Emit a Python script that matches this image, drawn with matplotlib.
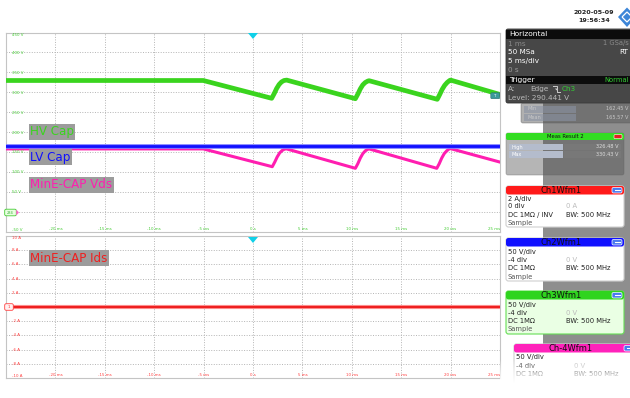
import matplotlib
matplotlib.use('Agg')
import matplotlib.pyplot as plt
import matplotlib.transforms as mtransforms
from matplotlib.patches import Rectangle, FancyBboxPatch, Polygon
import numpy as np

# ---------------- data ----------------
time_hv = [-25, -5.03, 1.89, 2.14, 2.39, 2.64, 2.89, 3.14, 3.41,
           10.36, 10.61, 10.86, 11.11, 11.36, 11.61, 11.75,
           18.65, 18.90, 19.15, 19.40, 19.65, 19.90, 20.00, 25]
hv_cap_v = [330, 330, 285.5, 297, 310, 320, 326.5, 330, 331,
            284.5, 296, 309, 319, 325, 328.5, 329.5,
            283, 295, 308, 318, 325, 330, 331, 295]

time_vds = [-25, -5.03, 1.95, 2.20, 2.45, 2.70, 2.95, 3.20, 3.40,
            10.36, 10.61, 10.86, 11.11, 11.36, 11.61, 11.75,
            18.60, 18.85, 19.10, 19.35, 19.60, 19.85, 19.95, 25]
vds_v = [159, 159, 114.5, 126, 139, 149, 155, 158.5, 159,
         110.5, 122, 136, 147, 154, 158, 159,
         110.5, 122, 136, 147, 154, 159, 160, 126]

time_lv = [-25, 25]
lv_cap_v = [167, 167]

time_ids = [-25, 25]
ids_a = [0, 0]

x_ticks_ms = [-25, -20, -15, -10, -5, 0, 5, 10, 15, 20, 25]
x_tick_labels = ['', '-20 ms', '-15 ms', '-10 ms', '-5 ms', '0 s',
                 '5 ms', '10 ms', '15 ms', '20 ms', '25 ms']
v_ticks = [-50, 0, 50, 100, 150, 200, 250, 300, 350, 400, 450]
v_tick_labels = ['-50 V', '', '50 V', '100 V', '150 V', '200 V',
                 '250 V', '300 V', '350 V', '400 V', '450 V']
a_ticks = [-10, -8, -6, -4, -2, 0, 2, 4, 6, 8, 10]
a_tick_labels = ['-10 A', '-8 A', '-6 A', '-4 A', '-2 A', '', '2 A',
                 '4 A', '6 A', '8 A', '10 A']

trace_names = ['HV Cap', 'LV Cap', 'MinE-CAP Vds', 'MinE-CAP Ids']

# ---------------- figure ----------------
W, H = 630, 398
fig = plt.figure(figsize=(W / 100, H / 100), dpi=100)
fig.patch.set_facecolor('white')

GREEN = '#3ad41e'
MAGENTA = '#ff1eb0'
BLUE = '#1010ff'
RED = '#ee2020'
GRIDC = '#b4b4b4'


def px_axes(x0, y0, x1, y1):
    return fig.add_axes([x0 / W, 1 - y1 / H, (x1 - x0) / W, (y1 - y0) / H])


ax1 = px_axes(6, 32.5, 500, 232.5)
ax2 = px_axes(6, 236, 500, 378)

for ax, yt, ylim in ((ax1, v_ticks, (-50, 450)), (ax2, a_ticks, (-10, 10))):
    ax.set_xlim(-25, 25)
    ax.set_ylim(*ylim)
    ax.set_xticks(x_ticks_ms)
    ax.set_yticks(yt)
    ax.grid(True, color=GRIDC, linestyle=(0, (1, 1.6)), linewidth=0.7)
    ax.tick_params(length=0, labelbottom=False, labelleft=False)
    for s in ax.spines.values():
        s.set_color('#c4c4c4')
        s.set_linewidth(0.8)
    ax.set_facecolor('white')

# traces
ax1.plot(time_hv, hv_cap_v, color=GREEN, lw=3.4, solid_joinstyle='round', zorder=3)
ax1.plot(time_vds, vds_v, color=MAGENTA, lw=2.2, solid_joinstyle='round', zorder=3)
ax1.plot(time_lv, lv_cap_v, color='#8080ff', lw=3.4, zorder=4)
ax1.plot(time_lv, lv_cap_v, color=BLUE, lw=2.0, zorder=5)
ax2.plot(time_ids, ids_a, color='#ff9a9a', lw=3.0, zorder=3)
ax2.plot(time_ids, ids_a, color=RED, lw=1.6, zorder=4)

# tick labels inside the panels
def ylabels(ax, ticks, labels, color):
    tr = mtransforms.blended_transform_factory(ax.transAxes, ax.transData)
    for i, (t, lab) in enumerate(zip(ticks, labels)):
        if not lab:
            continue
        va = 'center'
        if i == len(ticks) - 1:
            va = 'top'
        elif i == 0:
            va = 'bottom'
        ax.text(0.013, t, lab, transform=tr, fontsize=2.9, color=color,
                ha='left', va=va)


def xlabels(ax, color):
    tr = mtransforms.blended_transform_factory(ax.transData, ax.transAxes)
    for t, lab in zip(x_ticks_ms, x_tick_labels):
        if not lab:
            continue
        ha = 'right' if t == x_ticks_ms[-1] else 'center'
        ax.text(t, 0.008, lab, transform=tr, fontsize=2.9, color=color,
                ha=ha, va='bottom')


ylabels(ax1, v_ticks, v_tick_labels, '#44cc33')
xlabels(ax1, '#44cc33')
ylabels(ax2, a_ticks, a_tick_labels, '#ff4040')
xlabels(ax2, '#ff4040')

# ---------------- overlay in pixel coordinates ----------------
ov = fig.add_axes([0, 0, 1, 1], zorder=10)
ov.set_xlim(0, W)
ov.set_ylim(H, 0)
ov.axis('off')

# trace name labels
name_colors = [GREEN, BLUE, MAGENTA, RED]
name_pos = [(30, 132), (30, 157), (30, 185), (30, 258)]
for name, c, (x, y) in zip(trace_names, name_colors, name_pos):
    ov.text(x, y, name, fontsize=8.6, color=c, ha='left', va='center',
            bbox=dict(boxstyle='square,pad=0.12', fc='#9c9c9c', ec='none'))

# trigger markers
for yt in (33, 237):
    ov.add_patch(Polygon([(248, yt), (258, yt), (253, yt + 6)],
                         closed=True, fc='#10d0e8', ec='none'))

# channel tags
ov.add_patch(FancyBboxPatch((5, 209.5), 11, 6, boxstyle='round,pad=0.3,rounding_size=1.5',
                            fc='#e8ffe0', ec='#44cc33', lw=0.6))
ov.text(10.5, 212.7, '234', fontsize=2.6, color='#33aa33', ha='center', va='center')
ov.add_patch(Polygon([(16.3, 209.5), (19, 212.5), (16.3, 215.5)], fc='#ff66cc', ec='none'))
ov.add_patch(FancyBboxPatch((5, 304), 8, 6, boxstyle='round,pad=0.3,rounding_size=1.5',
                            fc='#fff0f0', ec='#ff4040', lw=0.6))
ov.text(9, 307, '1', fontsize=2.8, color='#ff3030', ha='center', va='center')
ov.add_patch(FancyBboxPatch((491, 93), 8.5, 5.5, boxstyle='round,pad=0.2,rounding_size=1',
                            fc='#3a9a9a', ec='#2a7070', lw=0.4))
ov.text(495, 95.8, 'T', fontsize=2.8, color='white', ha='center', va='center')

# ---------------- right side panel ----------------
# date & logo
ov.text(594, 12.5, '2020-05-09', fontsize=4.6, color='#222222', ha='center',
        va='center', fontweight='bold')
ov.text(594, 20, '19:56:34', fontsize=4.6, color='#222222', ha='center',
        va='center', fontweight='bold')
ov.add_patch(Polygon([(618, 17), (627, 7.5), (636, 17), (627, 27)], fc='#3d86d8', ec='none'))
ov.add_patch(Polygon([(622, 17), (627, 12), (632, 17), (627, 22)], fc='none', ec='white', lw=0.9))

# big translucent gray area
ov.add_patch(Rectangle((543, 103), 90, 280, fc='#8e8e8e', ec='none', zorder=1))

# horizontal / trigger box
ov.add_patch(FancyBboxPatch((506, 29), 130, 74, boxstyle='round,pad=0,rounding_size=2',
                            fc='#474747', ec='#303030', lw=0.6, zorder=2))
ov.add_patch(Rectangle((506, 29.5), 126, 9, fc='#0c0c0c', ec='none', zorder=3))
ov.add_patch(Rectangle((506, 75.5), 126, 8.5, fc='#0c0c0c', ec='none', zorder=3))
hfs = 5.2
ov.text(509, 34, 'Horizontal', fontsize=hfs + 0.2, color='white', va='center', zorder=4)
ov.text(508, 43.5, '1 ms', fontsize=hfs, color='#8a8a8a', va='center', zorder=4)
ov.text(628.5, 43.5, '1 GSa/s', fontsize=hfs - 0.3, color='#8a8a8a', va='center',
        ha='right', zorder=4)
ov.text(508, 52, '50 MSa', fontsize=hfs, color='white', va='center', zorder=4)
ov.text(628.5, 52, 'RT', fontsize=hfs, color='white', va='center', ha='right', zorder=4)
ov.text(508, 61.5, '5 ms/div', fontsize=hfs, color='white', va='center', zorder=4)
ov.text(508, 70, '0 s', fontsize=hfs, color='#9a9a9a', va='center', zorder=4)
ov.text(509, 80, 'Trigger', fontsize=hfs + 0.2, color='white', va='center', zorder=4)
ov.text(628.5, 80, 'Normal', fontsize=hfs - 0.3, color='#33cc33', va='center',
        ha='right', zorder=4)
ov.text(508, 89, 'A:', fontsize=hfs, color='#bbbbbb', va='center', zorder=4)
ov.text(530, 89, 'Edge', fontsize=hfs, color='#bbbbbb', va='center', zorder=4)
# falling-edge trigger symbol (drawn as a shape)
ov.plot([553, 556.5, 556.5, 560], [86, 86, 92, 92], color='#cccccc', lw=0.7, zorder=4)
ov.add_patch(Polygon([(555, 88.5), (558, 88.5), (556.5, 90.5)], fc='#cccccc', ec='none', zorder=4))
ov.text(562, 89, 'Ch3', fontsize=hfs, color='#33cc33', va='center', zorder=4)
ov.text(508, 98, 'Level: 290.441 V', fontsize=hfs, color='#bbbbbb', va='center', zorder=4)

# meas result 1 (partly hidden)
ov.add_patch(FancyBboxPatch((521, 103), 112, 20, boxstyle='round,pad=0,rounding_size=2',
                            fc='#505050', ec='#555555', alpha=0.45, lw=0.6, zorder=2))
for yy, lab, val in ((109, 'Min', '162.45 V'), (117.5, 'Mean', '165.57 V')):
    ov.add_patch(Rectangle((524, yy - 3.5), 52, 7, fc='#8a92a4', ec='none', alpha=0.6, zorder=3))
    ov.text(527, yy, lab, fontsize=3.6, color='#c8c8c8', va='center', zorder=4)
    ov.text(628, yy, val, fontsize=3.6, color='#c8c8c8', va='center', ha='right', zorder=4)

# meas result 2
ov.add_patch(FancyBboxPatch((506, 133), 118, 42, boxstyle='round,pad=0,rounding_size=2',
                            fc='#505050', ec='#606060', alpha=0.42, lw=0.6, zorder=2))
ov.add_patch(FancyBboxPatch((506, 133), 118, 7, boxstyle='round,pad=0,rounding_size=2',
                            fc='#33dd22', ec='none', zorder=3))
ov.text(565, 136.6, 'Meas Result 2', fontsize=3.8, color='#111111', ha='center',
        va='center', zorder=4)
ov.add_patch(FancyBboxPatch((614, 134.6), 8, 4, boxstyle='round,pad=0,rounding_size=1',
                            fc='#e02020', ec='white', lw=0.4, zorder=4))
for yy, lab, val in ((147, 'High', '326.48 V'), (154.5, 'Max', '330.43 V')):
    ov.add_patch(Rectangle((509, yy - 3.3), 54, 6.6, fc='#b4bccc', ec='none', zorder=3))
    ov.add_patch(Rectangle((564, yy - 3.3), 57, 6.6, fc='#7a7a7a', ec='none', alpha=0.7, zorder=3))
    ov.text(512, yy, lab, fontsize=3.6, color='white', va='center', zorder=4)
    ov.text(618, yy, val, fontsize=3.6, color='#dddddd', va='center', ha='right', zorder=4)

# channel boxes
def chbox(x0, y0, x1, y1, head_col, body_col, edge_col, title, lines, title_col='#111111'):
    ov.add_patch(FancyBboxPatch((x0, y0), x1 - x0, y1 - y0,
                                boxstyle='round,pad=0,rounding_size=2.5',
                                fc=body_col, ec=edge_col, lw=0.8, zorder=5))
    ov.add_patch(FancyBboxPatch((x0, y0), x1 - x0, 8.5,
                                boxstyle='round,pad=0,rounding_size=2.5',
                                fc=head_col, ec='none', zorder=6))
    ov.text((x0 + x1) / 2 - 4, y0 + 4.4, title, fontsize=6, color=title_col,
            ha='center', va='center', zorder=7)
    ov.add_patch(FancyBboxPatch((x1 - 12, y0 + 1.5), 10, 5.5,
                                boxstyle='round,pad=0,rounding_size=1.5',
                                fc='#4a78f0', ec='white', lw=0.5, zorder=7))
    ov.plot([x1 - 9.5, x1 - 4.5], [y0 + 4.3, y0 + 4.3], color='white', lw=0.8, zorder=8)
    for (yy, left, right, lc, rc) in lines:
        ov.text(x0 + 1.5, y0 + yy, left, fontsize=4.9, color=lc, va='center', zorder=7)
        if right:
            ov.text(x0 + 59.5, y0 + yy, right, fontsize=4.9, color=rc, va='center', zorder=7)


dark = '#222222'
grey = '#bbbbbb'
samp = '#555555'
chbox(506, 186, 624, 227, '#ff1a1a', 'white', '#cfcfcf', 'Ch1Wfm1',
      [(12.5, '2 A/div', '', dark, dark), (20.5, '0 div', '0 A', dark, grey),
       (29, 'DC 1M\u03a9 / INV', 'BW: 500 MHz', dark, dark), (37.5, 'Sample', '', samp, samp)])
chbox(506, 238, 624, 281, '#1010ff', 'white', '#cfcfcf', 'Ch2Wfm1',
      [(14, '50 V/div', '', dark, dark), (22.5, '-4 div', '0 V', dark, grey),
       (30.5, 'DC 1M\u03a9', 'BW: 500 MHz', dark, dark), (39, 'Sample', '', samp, samp)])
chbox(506, 291, 624, 334, '#2fd41e', '#eaffe4', '#66dd55', 'Ch3Wfm1',
      [(13.5, '50 V/div', '', dark, dark), (22, '-4 div', '0 V', dark, grey),
       (30, 'DC 1M\u03a9', 'BW: 500 MHz', dark, dark), (38.5, 'Sample', '', samp, samp)])
chbox(514, 344, 636, 390, '#ff22bb', 'white', '#cfcfcf', 'Ch-4Wfm1',
      [(13.5, '50 V/div', '', dark, dark), (22, '-4 div', '0 V', dark, grey),
       (30, 'DC 1M\u03a9', 'BW: 500 MHz', dark, dark)])

# bottom fade to white
grad = np.zeros((60, 2, 4))
grad[..., :3] = 1.0
grad[..., 3] = np.linspace(0, 1, 60)[:, None] ** 0.8
ov.imshow(grad, extent=(500, 632, 383, 360), aspect='auto', zorder=9, interpolation='bilinear')
ov.add_patch(Rectangle((500, 383), 132, 20, fc='white', ec='none', zorder=9))
ov.set_xlim(0, W)
ov.set_ylim(H, 0)

fig.savefig('out.png', dpi=100)
